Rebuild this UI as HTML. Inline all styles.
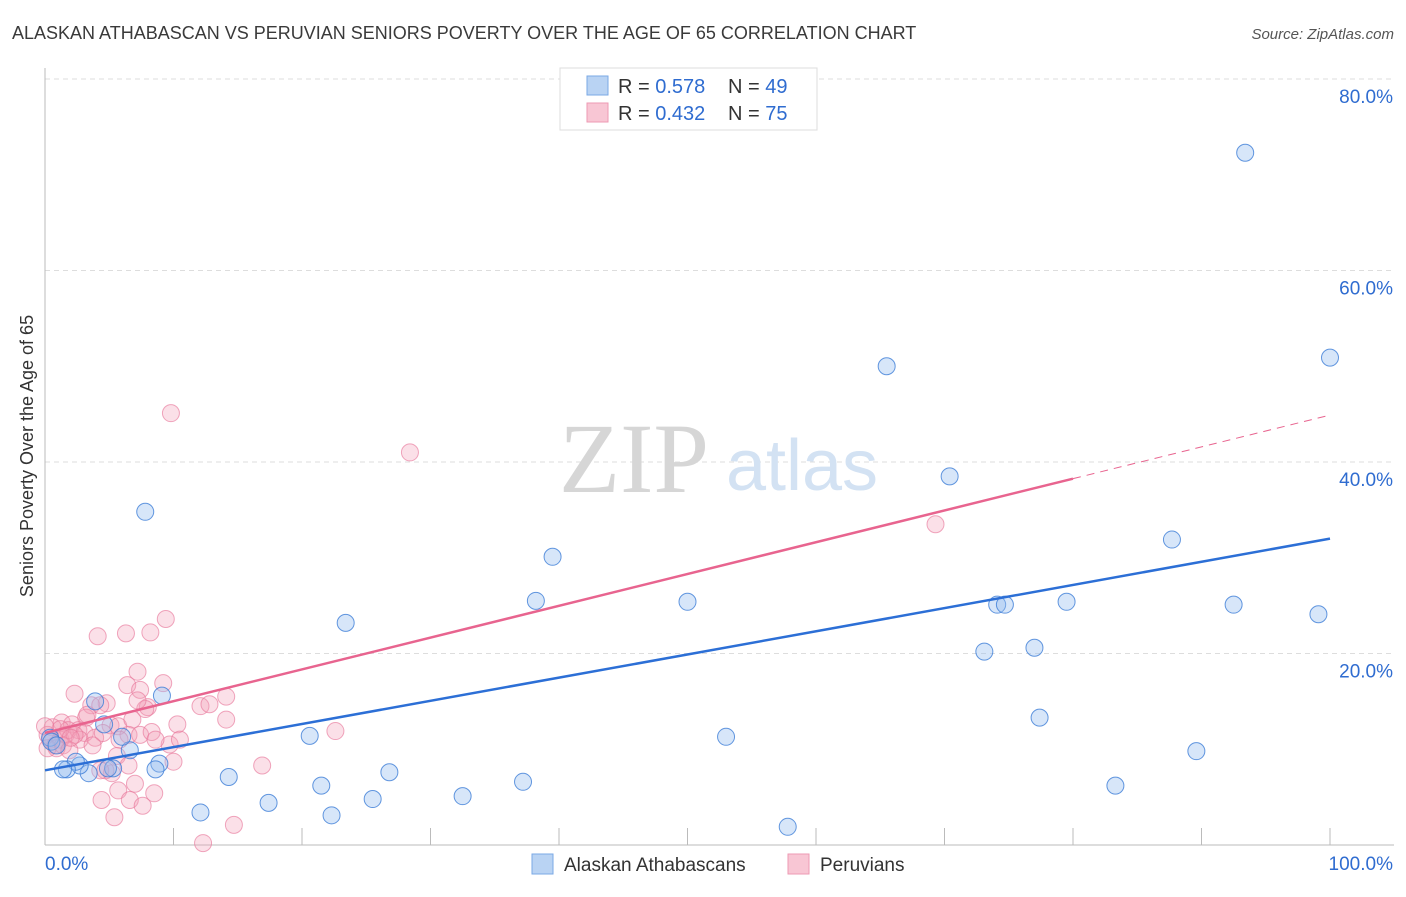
<!DOCTYPE html>
<html><head><meta charset="utf-8"><style>
body{margin:0;background:#fff;font-family:"Liberation Sans",sans-serif}
svg text{font-family:"Liberation Sans",sans-serif}
</style></head><body>
<svg id="c" width="1406" height="892" xmlns="http://www.w3.org/2000/svg">
<text x="12" y="39" font-size="18" fill="#3a3a3a">ALASKAN ATHABASCAN VS PERUVIAN SENIORS POVERTY OVER THE AGE OF 65 CORRELATION CHART</text>
<text x="1394" y="39" font-size="15" fill="#555" font-style="italic" text-anchor="end">Source: ZipAtlas.com</text>
<text transform="translate(33,456) rotate(-90)" font-size="18" fill="#333" text-anchor="middle">Seniors Poverty Over the Age of 65</text>
<g id="grid"></g>
<g><text x="634" y="492" font-size="100" fill="#d6d6d6" style="font-family:'Liberation Serif',serif" text-anchor="middle">ZIP</text><text x="802" y="490" font-size="72" fill="#d3e2f3" text-anchor="middle">atlas</text></g>
<g id="pts"></g>
<g id="lines"></g>
<g>
<rect x="560" y="68" width="257" height="62" fill="#fff" stroke="#ddd"/>
<rect x="587" y="76" width="21" height="19" fill="#b9d3f3" stroke="#7aa8e6"/>
<rect x="587" y="103" width="21" height="19" fill="#f8c6d4" stroke="#ee9ab3"/>
<text x="618" y="93" font-size="20" fill="#333">R = <tspan fill="#2f6cd0">0.578</tspan></text>
<text x="728" y="93" font-size="20" fill="#333">N = <tspan fill="#2f6cd0">49</tspan></text>
<text x="618" y="120" font-size="20" fill="#333">R = <tspan fill="#2f6cd0">0.432</tspan></text>
<text x="728" y="120" font-size="20" fill="#333">N = <tspan fill="#2f6cd0">75</tspan></text>
</g>
<g>
<rect x="532" y="854" width="21" height="20" fill="#b9d3f3" stroke="#7aa8e6"/>
<text x="564" y="871" font-size="19" fill="#333">Alaskan Athabascans</text>
<rect x="788" y="854" width="21" height="20" fill="#f8c6d4" stroke="#ee9ab3"/>
<text x="820" y="871" font-size="19" fill="#333">Peruvians</text>
</g>
</svg>
<script>
const yTicks=[20,40,60,80];
const xTickLabels=["0.0%","100.0%"];
const blueX=[7.8,39.5,38.2,23.4,50.0,65.5,70.4,93.4,100,87.7,74.1,74.7,79.5,92.5,99.1,73.1,77.0,77.4,89.6,83.3,53.0,57.8,37.2,32.5,25.5,26.8,22.3,21.5,20.6,17.4,14.3,12.1,9.1,8.9,8.6,6.6,6.0,4.6,3.9,5.3,4.9,3.4,2.7,2.4,1.7,1.4,0.4,0.5,0.9];
const blueY=[34.8,30.1,25.5,23.2,25.4,50.0,38.5,72.3,50.9,31.9,25.1,25.1,25.4,25.1,24.1,20.2,20.6,13.3,9.8,6.2,11.3,1.9,6.6,5.1,4.8,7.6,3.1,6.2,11.4,4.4,7.1,3.4,15.6,8.5,7.9,9.9,11.3,12.6,15.0,8.0,8.0,7.5,8.3,8.7,7.9,7.9,11.2,10.8,10.4];
const pinkX=[9.8,28.4,69.3,9.4,8.2,6.3,4.1,7.2,9.2,6.4,7.4,2.3,14.1,4.8,8.0,7.8,12.1,3.6,4.3,14.1,10.3,3.2,1.3,2.1,0.6,0.2,0.4,0.8,1.2,1.6,1.8,2.6,3.1,2.7,3.9,5.1,5.7,6.8,6.5,7.4,8.3,5.8,4.5,9.7,8.6,2.3,0.9,1.2,0,0.2,5.6,6.5,7.0,5.7,5.2,4.7,4.4,6.6,7.6,8.5,5.4,12.3,14.7,16.9,22.6,10.0,12.8,3.3,1.4,1.9,10.5,4.3,7.2,3.7,2.0];
const pinkY=[45.1,41.0,33.5,23.6,22.2,22.1,21.8,18.1,16.9,16.7,16.2,15.8,15.5,14.8,14.4,14.2,14.5,14.6,14.6,13.1,12.6,13.3,12.8,12.6,12.3,11.5,11.0,10.4,11.0,11.5,12.0,12.0,11.7,11.0,11.2,12.5,12.4,13.1,11.5,11.5,11.8,11.0,11.7,10.5,11.0,11.5,10.1,12.1,12.4,10.1,9.3,8.3,6.4,5.7,7.5,7.8,4.7,4.7,4.1,5.4,2.9,0.2,2.1,8.3,11.9,8.7,14.7,13.6,10.4,9.9,11.0,7.8,15.1,10.4,11.2];
const blueFit=[7.8,32.0];
const pinkFit=[11.7,44.9];
const X=v=>45+v*12.85, Y=v=>845-v*9.575;
const NS="http://www.w3.org/2000/svg";
function mk(t,a,p){const e=document.createElementNS(NS,t);for(const k in a)e.setAttribute(k,a[k]);p.appendChild(e);return e;}
const g=document.getElementById('grid');
yTicks.forEach(t=>{
 const l=mk('line',{x1:45,x2:1394,y1:Y(t),y2:Y(t),stroke:'#ddd','stroke-dasharray':'5,4'},g);
 
 
 const tx=mk('text',{x:1393,y:Y(t)+24,'font-size':19,fill:'#2f6cd0','text-anchor':'end'},g);tx.textContent=t.toFixed(1)+'%';
 
 
});
const ax=mk('line',{x1:45,x2:45,y1:68,y2:845,stroke:'#bbb'},g);


const bx=mk('line',{x1:45,x2:1394,y1:845,y2:845,stroke:'#bbb'},g);


for(let i=1;i<=10;i++){const t=mk('line',{x1:X(i*10),x2:X(i*10),y1:828,y2:845,stroke:'#bbb'},g);
 
 }
const l0=mk('text',{x:45,y:870,'font-size':19,fill:'#2f6cd0'},g);l0.textContent=xTickLabels[0];


const l1=mk('text',{x:1393,y:870,'font-size':19,fill:'#2f6cd0','text-anchor':'end'},g);l1.textContent=xTickLabels[1];


const P=document.getElementById('pts');
pinkX.forEach((x,i)=>{const c=mk('circle',{cx:X(x),cy:Y(pinkY[i]),r:8.5,fill:'rgba(244,160,185,0.32)',stroke:'rgba(232,120,155,0.65)','stroke-width':1},P);
 
 });
blueX.forEach((x,i)=>{const c=mk('circle',{cx:X(x),cy:Y(blueY[i]),r:8.5,fill:'rgba(150,190,240,0.38)',stroke:'rgba(60,125,215,0.8)','stroke-width':1},P);
 
 });
const L=document.getElementById('lines');
const bl=mk('line',{x1:X(0),y1:Y(blueFit[0]),x2:X(100),y2:Y(blueFit[1]),stroke:'#2c6fd6','stroke-width':2.5},L);


const pAt=x=>pinkFit[0]+(pinkFit[1]-pinkFit[0])*x/100;
const pl=mk('line',{x1:X(0),y1:Y(pAt(0)),x2:X(80),y2:Y(pAt(80)),stroke:'#e8648f','stroke-width':2.5},L);


const pd=mk('line',{x1:X(80),y1:Y(pAt(80)),x2:X(100),y2:Y(pAt(100)),stroke:'#e8648f','stroke-width':1,'stroke-dasharray':'8,6'},L);


</script>
</body></html>
